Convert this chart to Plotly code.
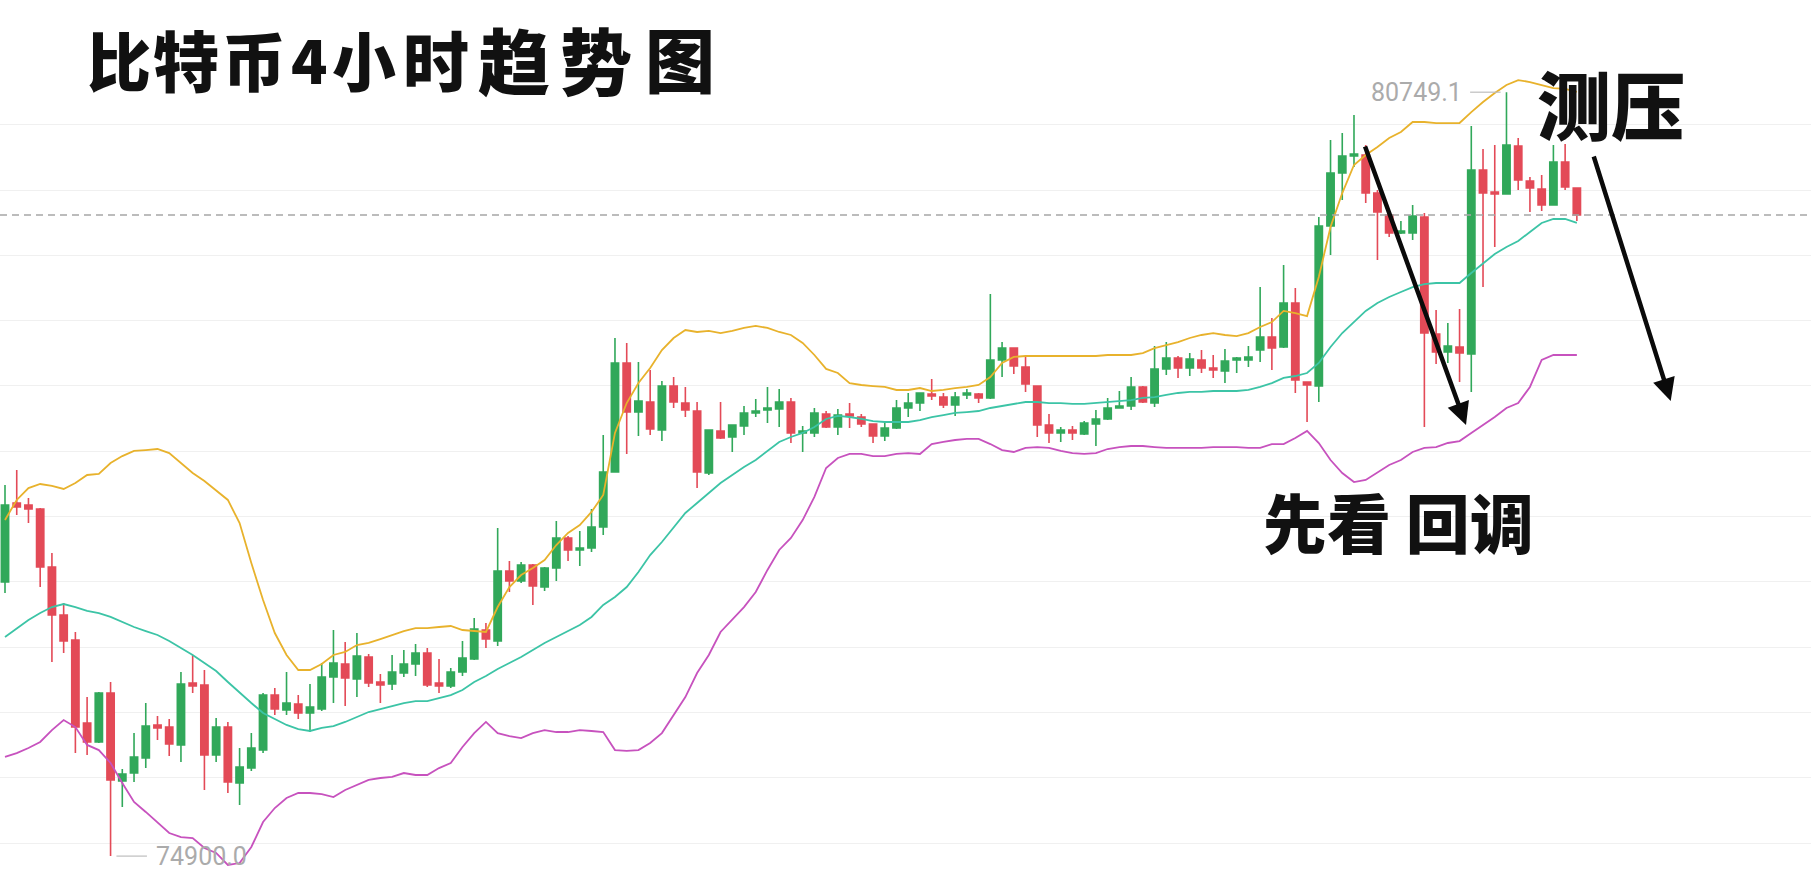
import plotly.graph_objects as go

# ---- OHLC data (BTC 4h) ----
opens = [76999, 77604, 77588, 77558, 77114, 76746, 76555, 75919, 75774, 76149,
         75475, 75536, 75651, 75904, 75888, 75751, 76225, 76210, 75674, 75888,
         75460, 75574, 75712, 76133, 76019, 76065, 75996, 76026, 76271, 76371,
         76256, 76424, 76233, 76218, 76302, 76371, 76455, 76225, 76202, 76310,
         76409, 76631, 76547, 77083, 77006, 77129, 76960, 77106, 77336, 77244,
         77259, 77420, 77841, 78676, 78300, 78377, 78163, 78499, 78369, 78308,
         77833, 78155, 78109, 78193, 78293, 78316, 78323, 78377, 78140, 78140,
         78285, 78186, 78285, 78262, 78208, 78117, 78178, 78331, 78369, 78438,
         78415, 78354, 78431, 78438, 78408, 78699, 78790, 78645, 78499, 78201,
         78140, 78163, 78132, 78208, 78247, 78331, 78346, 78492, 78369, 78630,
         78714, 78637, 78699, 78637, 78614, 78699, 78699, 78775, 78875, 78798,
         79135, 78530, 78499, 79725, 80130, 80261, 80268, 79977, 79809, 79671,
         79671, 79793, 78898, 78760, 78798, 78744, 80153, 79985, 79970, 80337,
         80069, 80008, 79885, 80215, 80016]
highs = [77741, 77856, 77642, 77565, 77221, 76838, 76616, 76118, 76156, 76233,
         75567, 75842, 76072, 75973, 75950, 76310, 76440, 76325, 75957, 75927,
         75728, 75842, 76149, 76187, 76310, 76133, 76218, 76378, 76631, 76539,
         76608, 76447, 76294, 76440, 76478, 76524, 76493, 76409, 76340, 76547,
         76723, 76685, 77412, 77159, 77152, 77137, 77114, 77466, 77351, 77389,
         77558, 78124, 78867, 78829, 78683, 78622, 78538, 78568, 78492, 78377,
         78163, 78377, 78201, 78346, 78400, 78492, 78476, 78408, 78193, 78331,
         78308, 78323, 78369, 78285, 78215, 78231, 78392, 78446, 78450, 78553,
         78446, 78454, 78476, 78445, 79204, 78836, 78795, 78722, 78505, 78285,
         78186, 78193, 78231, 78316, 78408, 78461, 78568, 78499, 78806, 78836,
         78729, 78752, 78775, 78737, 78783, 78722, 78806, 79257, 79020, 79426,
         79250, 78535, 79793, 80383, 80437, 80574, 80345, 80000, 79824, 79763,
         79885, 79824, 79081, 78982, 79089, 80490, 80314, 80345, 80749.1, 80398,
         80100, 80115, 80345, 80352, 80020]
lows = [76914, 77512, 77450, 76960, 76386, 76455, 75689, 75674, 75766, 74900.0,
        75276, 75467, 75574, 75789, 75666, 75620, 76149, 75406, 75620, 75383,
        75291, 75552, 75689, 75980, 75980, 75950, 75850, 76011, 76072, 76049,
        76118, 76195, 76072, 76172, 76271, 76279, 76195, 76149, 76187, 76279,
        76401, 76493, 76509, 76922, 76991, 76823, 76930, 77006, 77159, 77121,
        77228, 77359, 77835, 77979, 78117, 78124, 78078, 78331, 78262, 77718,
        77818, 78094, 77994, 78124, 78262, 78216, 78186, 78063, 77994, 78109,
        78178, 78124, 78178, 78186, 78063, 78078, 78170, 78262, 78308, 78392,
        78331, 78270, 78400, 78369, 78400, 78568, 78591, 78454, 78109, 78063,
        78071, 78086, 78124, 78040, 78240, 78325, 78316, 78369, 78339, 78584,
        78561, 78576, 78599, 78561, 78522, 78599, 78645, 78683, 78622, 78790,
        78446, 78224, 78377, 79503, 79924, 80176, 79901, 79464, 79640, 79663,
        79617, 78186, 78668, 78676, 78530, 78454, 79257, 79564, 79965, 80000,
        79832, 79839, 79880, 80000, 79763]
closes = [77588, 77573, 77558, 77114, 76746, 76547, 75888, 75774, 76149, 75483,
          75529, 75659, 75896, 75881, 75758, 76218, 76202, 75674, 75888, 75467,
          75582, 75728, 76133, 76026, 76072, 75996, 76042, 76271, 76378, 76264,
          76432, 76225, 76210, 76310, 76371, 76455, 76210, 76202, 76310, 76417,
          76639, 76562, 77083, 77006, 77129, 76968, 77106, 77336, 77244, 77259,
          77420, 77841, 78676, 78300, 78385, 78170, 78499, 78377, 78316, 77841,
          78163, 78101, 78201, 78293, 78308, 78331, 78377, 78140, 78155, 78293,
          78186, 78277, 78270, 78208, 78117, 78178, 78331, 78369, 78446, 78423,
          78354, 78415, 78446, 78408, 78699, 78790, 78653, 78515, 78201, 78140,
          78163, 78140, 78216, 78247, 78331, 78346, 78492, 78377, 78630, 78714,
          78637, 78706, 78637, 78622, 78691, 78714, 78722, 78875, 78790, 79135,
          78545, 78507, 79725, 80130, 80261, 80276, 79977, 79832, 79671, 79686,
          79801, 78905, 78760, 78806, 78752, 80153, 79977, 79970, 80345, 80077,
          80016, 79885, 80215, 80023, 79809]

# ---- Bollinger bands ----
boll_upper = [77473, 77627, 77718, 77749, 77734, 77711, 77757, 77818, 77826, 77910,
              77963, 78002, 78009, 78017, 77986, 77910, 77833, 77772, 77703, 77627,
              77450, 77144, 76861, 76608, 76440, 76325, 76325, 76371, 76440, 76463,
              76516, 76532, 76562, 76593, 76623, 76646, 76646, 76654, 76662, 76631,
              76623, 76616, 76807, 76960, 77052, 77106, 77167, 77282, 77374, 77435,
              77535, 77665, 78140, 78369, 78522, 78637, 78775, 78867, 78928, 78913,
              78921, 78905, 78921, 78944, 78959, 78944, 78913, 78890, 78829, 78737,
              78630, 78599, 78522, 78507, 78499, 78492, 78469, 78469, 78484, 78461,
              78469, 78484, 78492, 78507, 78568, 78676, 78722, 78729, 78729, 78729,
              78729, 78729, 78729, 78729, 78737, 78737, 78737, 78752, 78790, 78813,
              78836, 78867, 78890, 78905, 78890, 78882, 78905, 78951, 78989, 79074,
              79058, 79035, 79334, 79717, 79977, 80192, 80268, 80329, 80398, 80444,
              80521, 80521, 80513, 80513, 80513, 80597, 80674, 80743, 80804, 80842,
              80827, 80804, 80781, 80774, 80751]
boll_mid = [76578, 76646, 76708, 76761, 76807, 76830, 76807, 76777, 76761, 76731,
            76692, 76654, 76623, 76593, 76547, 76493, 76440, 76378, 76317, 76233,
            76149, 76072, 75996, 75950, 75904, 75873, 75858, 75881, 75896, 75927,
            75965, 76003, 76026, 76049, 76072, 76087, 76087, 76110, 76133, 76172,
            76233, 76279, 76333, 76378, 76424, 76478, 76532, 76578, 76623, 76669,
            76731, 76823, 76884, 76960, 77075, 77205, 77305, 77420, 77527, 77604,
            77680, 77757, 77818, 77879, 77933, 78002, 78071, 78109, 78140, 78186,
            78247, 78270, 78262, 78247, 78231, 78224, 78224, 78224, 78239, 78262,
            78277, 78293, 78300, 78308, 78331, 78346, 78362, 78377, 78377, 78369,
            78369, 78362, 78362, 78369, 78377, 78385, 78392, 78408, 78415, 78431,
            78446, 78454, 78454, 78461, 78461, 78461, 78469, 78492, 78522, 78561,
            78576, 78599, 78676, 78798, 78905, 78989, 79074, 79135, 79181, 79219,
            79257, 79280, 79288, 79288, 79288, 79365, 79441, 79510, 79564, 79610,
            79679, 79748, 79778, 79778, 79748]
boll_lower = [75659, 75689, 75728, 75774, 75865, 75942, 75888, 75751, 75712, 75613,
              75460, 75314, 75238, 75161, 75077, 75046, 75038, 74962, 74924, 74832,
              74847, 74970, 75161, 75268, 75345, 75383, 75383, 75375, 75352, 75406,
              75444, 75483, 75498, 75506, 75536, 75521, 75521, 75574, 75613, 75735,
              75842, 75927, 75842, 75819, 75804, 75842, 75865, 75850, 75850, 75865,
              75858, 75850, 75712, 75705, 75712, 75766, 75842, 75980, 76118, 76302,
              76440, 76616, 76708, 76807, 76922, 77091, 77244, 77336, 77473, 77650,
              77872, 77948, 77979, 77979, 77963, 77963, 77979, 77986, 77979, 78055,
              78071, 78086, 78094, 78094, 78055, 78009, 77994, 78025, 78032, 78025,
              78002, 77986, 77979, 77986, 78017, 78032, 78040, 78040, 78032, 78025,
              78025, 78025, 78025, 78032, 78032, 78032, 78025, 78025, 78055, 78055,
              78101, 78155, 78063, 77933, 77833, 77764, 77780, 77841, 77895, 77933,
              77994, 78025, 78032, 78063, 78078, 78140, 78201, 78262, 78331, 78369,
              78492, 78699, 78737, 78737, 78737]

grid_levels = [75000, 75500, 76000, 76500, 77000, 77500, 78000, 78500, 79000, 79500, 80000, 80500]
title_text = "比特币4小时趋势图"
note_top = "测压"
note_bottom = "先看 回调"

GREEN = "#31A85A"
RED = "#E34A57"
C_UP = "#E8B22C"
C_MID = "#3CC4A6"
C_LOW = "#C752BE"

W, H = 1811, 883
idx = list(range(len(opens)))

fig = go.Figure()
fig.add_trace(go.Candlestick(
    x=idx, open=opens, high=highs, low=lows, close=closes,
    increasing=dict(line=dict(color=GREEN, width=1.6), fillcolor=GREEN),
    decreasing=dict(line=dict(color=RED, width=1.6), fillcolor=RED),
    whiskerwidth=0, showlegend=False, hoverinfo="skip"))
for vals, col in [(boll_upper, C_UP), (boll_mid, C_MID), (boll_lower, C_LOW)]:
    fig.add_trace(go.Scatter(x=idx, y=vals, mode="lines",
                             line=dict(color=col, width=1.8),
                             showlegend=False, hoverinfo="skip"))

# extreme price markers
hi_i = max(idx, key=lambda i: highs[i])
lo_i = min(idx, key=lambda i: lows[i])
hi_v = highs[hi_i]
lo_v = lows[lo_i]
last_close = closes[-1]

fig.add_shape(type="line", xref="paper", x0=0, x1=1, y0=last_close, y1=last_close,
              line=dict(color="#A6A6A6", width=1.5, dash="7px,5px"))
fig.add_shape(type="line", x0=hi_i - 3.1, x1=hi_i - 0.5, y0=hi_v, y1=hi_v,
              line=dict(color="#BDBDBD", width=1.2))
fig.add_shape(type="line", x0=lo_i + 0.5, x1=lo_i + 3.1, y0=lo_v, y1=lo_v,
              line=dict(color="#BDBDBD", width=1.2))
fig.add_annotation(x=hi_i - 3.6, y=hi_v, text=f"{hi_v:.1f}", showarrow=False,
                   xanchor="right", yanchor="middle",
                   font=dict(family="Roboto", size=25, color="#ABABAB"))
fig.add_annotation(x=lo_i + 3.7, y=lo_v, text=f"{lo_v:.1f}", showarrow=False,
                   xanchor="left", yanchor="middle",
                   font=dict(family="Roboto", size=25, color="#ABABAB"))

# hand-drawn style notes
cjk = "Noto Sans CJK SC"
title_centers_px = [119, 186, 254, 309, 364, 436, 514, 596, 680]
title_sizes = [64, 66, 64, 60, 64, 66, 72, 72, 70]
for ch, cx, fs in zip(title_text, title_centers_px, title_sizes):
    fig.add_annotation(xref="paper", yref="paper", x=cx / W, y=1 - 58 / H, text=ch,
                       showarrow=False, xanchor="center", yanchor="middle",
                       font=dict(family=cjk, size=fs, color="#111111", weight=900))
fig.add_annotation(xref="paper", yref="paper", x=0.8896, y=0.8845, text=note_top,
                   showarrow=False, xanchor="center", yanchor="middle",
                   font=dict(family=cjk, size=74, color="#111111", weight=900))
fig.add_annotation(xref="paper", yref="paper", x=0.7725, y=0.411, text=note_bottom,
                   showarrow=False, xanchor="center", yanchor="middle",
                   font=dict(family=cjk, size=64, color="#111111", weight=900))

# arrows
for (tx, ty, hx, hy) in [(115.9, 80345, 124.55, 78201), (135.4, 80268, 142.0, 78385)]:
    fig.add_annotation(x=hx, y=hy, ax=tx, ay=ty, xref="x", yref="y", axref="x", ayref="y",
                       text="", showarrow=True, arrowhead=2, arrowsize=1.0,
                       arrowwidth=4.5, arrowcolor="#0A0A0A")

fig.update_layout(
    width=W, height=H,
    margin=dict(l=0, r=0, t=0, b=0),
    paper_bgcolor="white", plot_bgcolor="white",
    boxgap=0.38, boxgroupgap=0,
    xaxis=dict(range=[-0.426, 153.96], showgrid=False, zeroline=False,
               showticklabels=False, rangeslider=dict(visible=False), fixedrange=True),
    yaxis=dict(range=[74694, 81455], tickvals=grid_levels, showgrid=True,
               gridcolor="#F0F0F0", gridwidth=1, zeroline=False,
               showticklabels=False, ticks="", fixedrange=True),
)

fig.write_html("out.html", config={"displayModeBar": False},
               post_script="document.body.style.margin='0';")
